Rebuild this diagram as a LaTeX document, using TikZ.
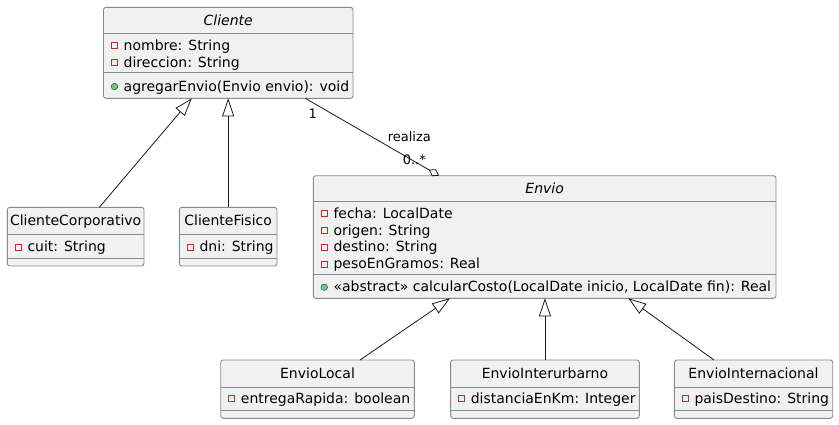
\documentclass[tikz,border=0pt]{standalone}
\usepackage{fontspec}
\setmainfont{DejaVu Sans}
\usetikzlibrary{arrows.meta,positioning}
\definecolor{boxfill}{HTML}{F1F1F1}
\definecolor{boxline}{HTML}{8A8A8A}
\definecolor{linedark}{HTML}{181818}
\definecolor{privred}{HTML}{C82930}
\definecolor{pubfill}{HTML}{84BE84}
\definecolor{publine}{HTML}{038048}
\tikzset{
    %Define style for class boxes
    classbox/.style={
           rectangle,
           rounded corners=2.5pt,
           draw=boxline, line width=0.9pt,
           fill=boxfill,
           inner sep=0pt, outer sep=0pt},
    %Define style for compartment lines
    compline/.style={
           draw=boxline, line width=0.9pt},
    classtitle/.style={
           anchor=base,
           inner sep=0pt,
           font=\fontsize{14}{16}\selectfont},
    member/.style={
           anchor=base west,
           inner sep=0pt,
           font=\fontsize{14}{16}\selectfont},
    priv/.style={
           rectangle,
           draw=privred, line width=0.8pt,
           minimum size=6pt,
           inner sep=0pt},
    pub/.style={
           circle,
           draw=publine, fill=pubfill, line width=0.6pt,
           minimum size=6.5pt,
           inner sep=0pt},
    lbl/.style={
           inner sep=0pt,
           font=\fontsize{13}{15}\selectfont},
    % Define arrow styles
    inherit/.style={
           -{Triangle[open, length=18pt, width=12pt]},
           draw=linedark, line width=0.8pt},
    aggr/.style={
           -{Diamond[open, length=12pt, width=8pt]},
           draw=linedark, line width=0.8pt}
}
\begin{document}
\begin{tikzpicture}[x=1pt, y=-1pt]
\useasboundingbox (0,0) rectangle (839,424);
 %class boxes
\node[classbox, minimum width=249.5pt, minimum height=91pt] (cliente) at (228.25,52.8) {};
\node[classbox, minimum width=136.7pt, minimum height=58.7pt] (corp) at (75.65,236.65) {};
\node[classbox, minimum width=97.7pt, minimum height=58.7pt] (fisico) at (228.15,236.65) {};
\node[classbox, minimum width=462.7pt, minimum height=122.6pt] (envio) at (544.65,237) {};
\node[classbox, minimum width=193.6pt, minimum height=58.3pt] (elocal) at (317.5,389.15) {};
\node[classbox, minimum width=188.7pt, minimum height=58.3pt] (einter) at (544.95,389.15) {};
\node[classbox, minimum width=158.4pt, minimum height=58.3pt] (eintl) at (753.5,389.15) {};

 %compartments
\draw[compline] ([yshift=-26pt]cliente.north west) -- ([yshift=-26pt]cliente.north east);
\draw[compline] ([yshift=-65.4pt]cliente.north west) -- ([yshift=-65.4pt]cliente.north east);
\draw[compline] ([yshift=-25.6pt]envio.north west) -- ([yshift=-25.6pt]envio.north east);
\draw[compline] ([yshift=-98.3pt]envio.north west) -- ([yshift=-98.3pt]envio.north east);
\foreach \c in {corp,fisico,elocal,einter,eintl}{
  \draw[compline] ([yshift=-27pt]\c.north west) -- ([yshift=-27pt]\c.north east);
  \draw[compline] ([yshift=8pt]\c.south west) -- ([yshift=8pt]\c.south east);
}

 %Cliente
\node[classtitle] (tcliente) at (228.25,25) {\itshape Cliente};
\foreach \txt [count=\i] in {nombre: String, direccion: String}{
  \node[priv] (pcliente\i) at (114.5,{45.5+17.3*(\i-1)}) {};
  \node[member] (acliente\i) at (123.5,{50+17.3*(\i-1)}) {\txt};
}
\node[pub] (mcliente) at (114.5,86.5) {};
\node[member] (opcliente) at (123.5,91) {agregarEnvio(Envio envio): void};

 %subclasses of Cliente
\node[classtitle] (tcorp) at (75.65,225.7) {ClienteCorporativo};
\node[priv] (pcorp) at (18.3,247.2) {};
\node[member] (acorp) at (27.3,251.7) {cuit: String};
\node[classtitle] (tfisico) at (228.15,225.7) {ClienteFisico};
\node[priv] (pfisico) at (190.3,247.2) {};
\node[member] (afisico) at (199.3,251.7) {dni: String};

 %Envio
\node[classtitle] (tenvio) at (544.65,193.3) {\itshape Envio};
\foreach \txt [count=\i] in {fecha: LocalDate, origen: String, destino: String, pesoEnGramos: Real}{
  \node[priv] (penvio\i) at (324.3,{213.8+16.7*(\i-1)}) {};
  \node[member] (aenvio\i) at (333.3,{218.3+16.7*(\i-1)}) {\txt};
}
\node[pub] (menvio) at (324.3,287.2) {};
\node[member] (openvio) at (333.3,291.7) {«abstract» calcularCosto(LocalDate inicio, LocalDate fin): Real};

 %subclasses of Envio
\node[classtitle] (telocal) at (317.5,378.3) {EnvioLocal};
\node[priv] (pelocal) at (231.7,398.8) {};
\node[member] (aelocal) at (240.7,403.3) {entregaRapida: boolean};
\node[classtitle] (teinter) at (544.95,378.3) {EnvioInterurbarno};
\node[priv] (peinter) at (461.6,398.8) {};
\node[member] (aeinter) at (470.6,403.3) {distanciaEnKm: Integer};
\node[classtitle] (teintl) at (753.5,378.3) {EnvioInternacional};
\node[priv] (peintl) at (685.3,398.8) {};
\node[member] (aeintl) at (694.3,403.3) {paisDestino: String};

 %connectors
\draw[inherit] ([xshift=23.7pt]corp.north) -- ([xshift=-36.5pt]cliente.south);
\draw[inherit] (fisico.north) -- (fisico.north |- cliente.south);
\draw[aggr] ([xshift=77pt]cliente.south) -- ([xshift=-105.5pt]envio.north);
\draw[inherit] ([xshift=42.5pt]elocal.north) -- ([xshift=-94.6pt]envio.south);
\draw[inherit] (einter.north) -- (einter.north |- envio.south);
\draw[inherit] ([xshift=-39.5pt]eintl.north) -- ([xshift=83.7pt]envio.south);

 %labels
\node[lbl] (lone) at (312.7,114) {1};
\node[lbl] (lrealiza) at (409.3,136.7) {realiza};
\node[lbl] (lmany) at (414.3,159.3) {0..*};
\end{tikzpicture}
\end{document}
